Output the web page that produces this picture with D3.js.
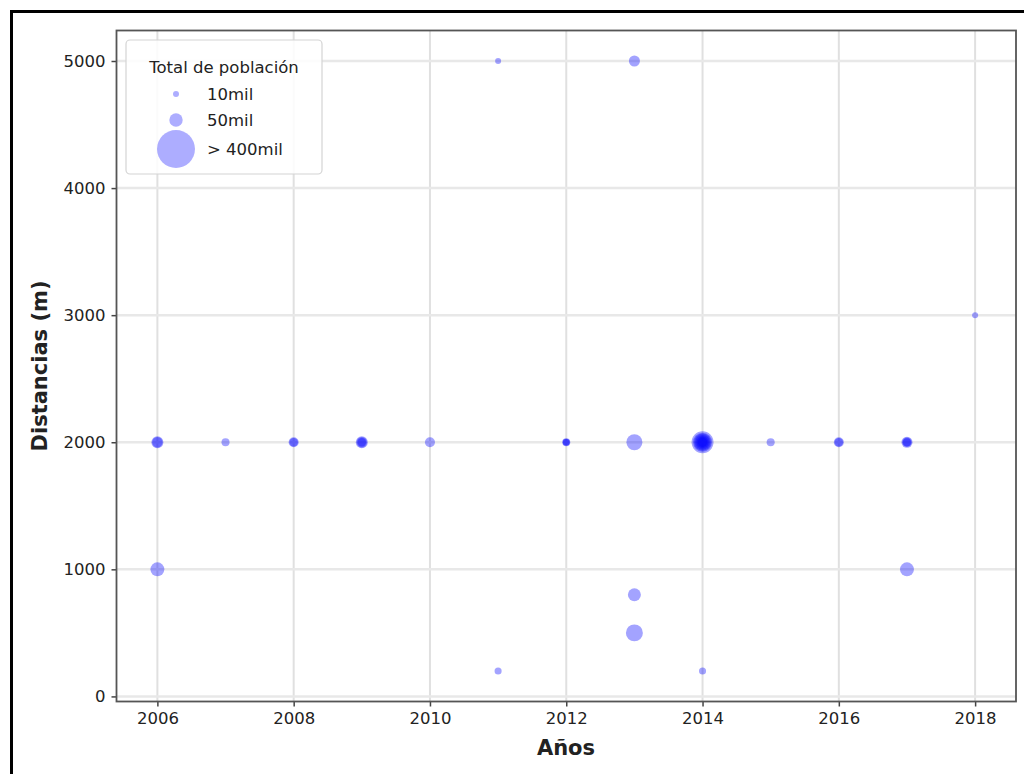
<!DOCTYPE html>
<meta charset="utf-8">
<style>
body { margin: 0; background: #fff; }
text { font-family: "DejaVu Sans", sans-serif; fill: #222; }
</style>
<body>
<script src="https://d3js.org/d3.v7.min.js"></script>
<script>

// one entry per record; repeated rows overlap and read darker
var years     = [2006, 2006, 2006, 2007, 2008, 2008, 2009, 2009, 2009, 2010,
                 2011, 2011, 2012, 2012, 2012, 2013, 2013, 2013, 2013,
                 2014, 2014, 2014, 2014, 2014, 2014, 2014, 2015, 2016, 2016,
                 2017, 2017, 2017, 2017, 2018];
var distances = [2000, 2000, 1000, 2000, 2000, 2000, 2000, 2000, 2000, 2000,
                 5000, 200, 2000, 2000, 2000, 5000, 2000, 800, 500,
                 2000, 2000, 2000, 2000, 2000, 2000, 200, 2000, 2000, 2000,
                 2000, 2000, 2000, 1000, 3000];
var poblacion = [40, 30, 54, 18, 28, 20, 40, 30, 20, 28,
                 10, 14, 18, 14, 12, 34, 71, 47, 80,
                 134, 100, 80, 60, 40, 25, 14, 18, 28, 20,
                 34, 25, 18, 54, 10];

var xTicks = [2006, 2008, 2010, 2012, 2014, 2016, 2018];
var yTicks = [0, 1000, 2000, 3000, 4000, 5000];
var legendValues = [10, 50, 400];
var legendLabels = ["10mil", "50mil", "> 400mil"];

var W = 1024, H = 774;
var m = {left: 116.5, right: 1016, top: 30.5, bottom: 701.5};

var svg = d3.select("body").append("svg")
    .attr("width", W)
    .attr("height", H);

// outer frame of the scanned figure
svg.append("path")
    .attr("d", "M11.5,774 V11.5 H1024")
    .attr("fill", "none")
    .attr("stroke", "#000")
    .attr("stroke-width", 3);

var x = d3.scaleLinear().domain([2005.4, 2018.6]).range([m.left, m.right]);
var y = d3.scaleLinear().domain([-40, 5240]).range([m.bottom, m.top]);
var r = d3.scaleSqrt().domain([0, 10]).range([0, 3]);

// grid
svg.append("g")
  .selectAll("line").data(xTicks).join("line")
    .attr("x1", d => x(d)).attr("x2", d => x(d))
    .attr("y1", m.top).attr("y2", m.bottom)
    .attr("stroke", "#e0e0e0").attr("stroke-width", 2);
svg.append("g")
  .selectAll("line").data(yTicks).join("line")
    .attr("x1", m.left).attr("x2", m.right)
    .attr("y1", d => y(d)).attr("y2", d => y(d))
    .attr("stroke", "#e8e8e8").attr("stroke-width", 2.5);

// points
var pts = years.map((d, i) => ({ year: d, dist: distances[i], pop: poblacion[i] }));
svg.append("g")
  .selectAll("circle").data(pts).join("circle")
    .attr("cx", d => x(d.year))
    .attr("cy", d => y(d.dist))
    .attr("r", d => r(d.pop))
    .attr("fill", "#0000ff")
    .attr("fill-opacity", 0.36);

// axes
var xAxis = svg.append("g")
    .attr("transform", "translate(0," + m.bottom + ")")
    .call(d3.axisBottom(x).tickValues(xTicks).tickFormat(d3.format("d")).tickSize(5).tickPadding(6));
var yAxis = svg.append("g")
    .attr("transform", "translate(" + m.left + ",0)")
    .call(d3.axisLeft(y).tickValues(yTicks).tickFormat(d3.format("d")).tickSize(5).tickPadding(6));
[xAxis, yAxis].forEach(function(a) {
  a.select(".domain").remove();
  a.selectAll(".tick line").attr("stroke", "#444").attr("stroke-width", 1.5);
  a.selectAll(".tick text")
      .style("font-family", "'DejaVu Sans', sans-serif")
      .style("font-size", "16.5px")
      .attr("fill", "#222");
});

svg.append("rect")
    .attr("x", m.left).attr("y", m.top)
    .attr("width", m.right - m.left).attr("height", m.bottom - m.top)
    .attr("fill", "none")
    .attr("stroke", "#555")
    .attr("stroke-width", 1.8);

// axis titles
svg.append("text")
    .attr("x", 566).attr("y", 755)
    .attr("text-anchor", "middle")
    .style("font-size", "21px").style("font-weight", "bold")
    .text("Años");
svg.append("text")
    .attr("transform", "translate(47,366) rotate(-90)")
    .attr("text-anchor", "middle")
    .style("font-size", "21px").style("font-weight", "bold")
    .text("Distancias (m)");

// legend
var lg = svg.append("g");
lg.append("rect")
    .attr("x", 126).attr("y", 40).attr("width", 196).attr("height", 134)
    .attr("rx", 4)
    .attr("fill", "#fff").attr("fill-opacity", 0.85)
    .attr("stroke", "#d4d4d4").attr("stroke-width", 1.2);
lg.append("text")
    .attr("x", 224).attr("y", 73)
    .attr("text-anchor", "middle")
    .style("font-size", "16.5px")
    .text("Total de población");
var legendY = [94, 120, 149];
legendValues.forEach(function(v, i) {
  lg.append("circle")
      .attr("cx", 176).attr("cy", legendY[i])
      .attr("r", r(v))
      .attr("fill", "#0000ff").attr("fill-opacity", 0.32);
  lg.append("text")
      .attr("x", 207).attr("y", legendY[i])
      .attr("dy", "0.35em")
      .style("font-size", "16.5px")
      .text(legendLabels[i]);
});

</script>
</body>
